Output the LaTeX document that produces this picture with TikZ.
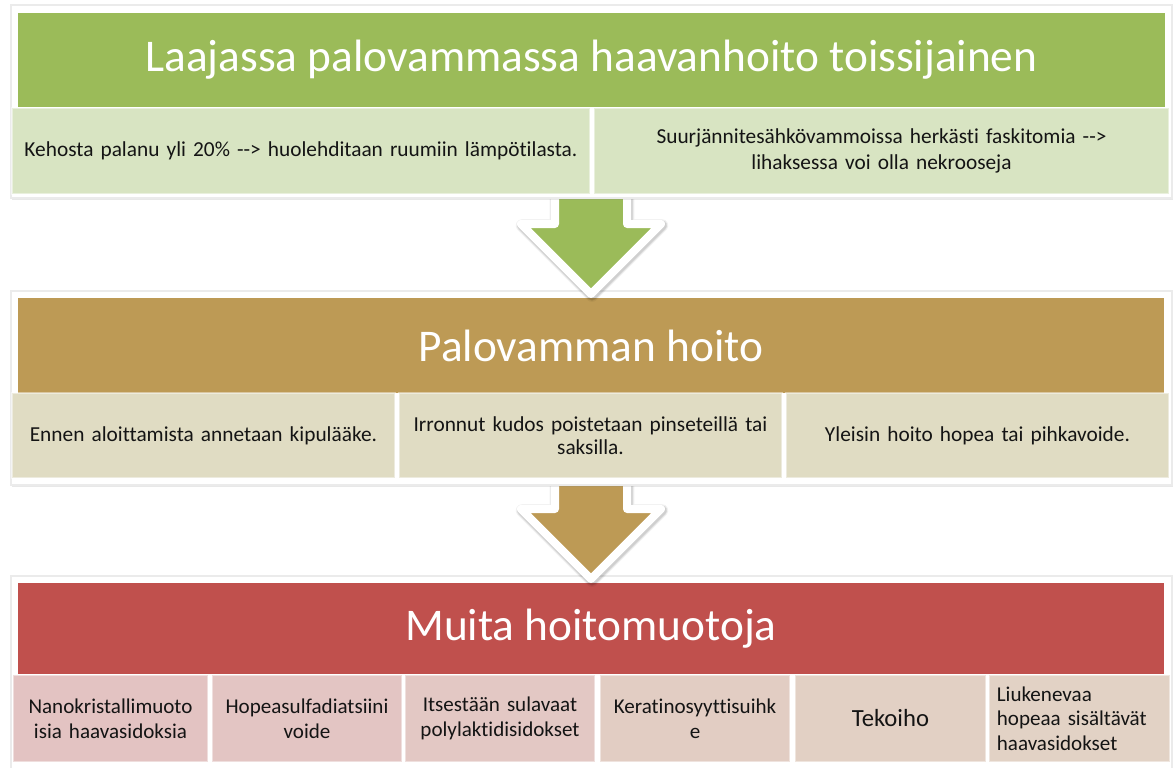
\documentclass[tikz,border=0pt]{standalone}
\usepackage{fontspec}
\setmainfont{Carlito}[Ligatures={NoCommon}]
\usetikzlibrary{shadows,calc}
\definecolor{gHead}{HTML}{9BBB59}
\definecolor{gCell}{HTML}{D8E4C2}
\definecolor{bHead}{HTML}{BD9A55}
\definecolor{bCell}{HTML}{E0DCC3}
\definecolor{rHead}{HTML}{C0504D}
\definecolor{rCa}{HTML}{E3C3C2}
\definecolor{rCb}{HTML}{E3C5C3}
\definecolor{rCc}{HTML}{E3C8C4}
\definecolor{rCd}{HTML}{E2CDC3}
\definecolor{rCe}{HTML}{E2D0C4}
\definecolor{rCf}{HTML}{E2D2C5}
\definecolor{txt}{HTML}{141414}
\tikzset{
  frame/.style={fill=white, draw=black!8, line width=0.8pt, inner sep=0pt, outer sep=0pt,
    minimum width=870.75pt, anchor=center,
    drop shadow={shadow xshift=0.8pt, shadow yshift=-1.4pt, opacity=0.18}},
  head/.style={text=white, inner sep=0pt, outer sep=0pt, anchor=center,
    font=\fontsize{34}{40}\selectfont},
  cell/.style={text=txt, inner sep=0pt, outer sep=0pt, align=center, anchor=center,
    draw=white, draw opacity=0.45, line width=1pt},
  topfont/.style={font=\fontsize{16}{20}\selectfont},
  midfont/.style={font=\fontsize{16}{17.5}\selectfont},
  botfont/.style={font=\fontsize{15.8}{18.5}\selectfont},
  arrowglow/.style={draw=black, line join=round},
  blockarrow/.style={draw=white, line width=6pt, line join=round},
}
\newcommand\downblock[2]{%
  \foreach \w/\o in {9.5pt/0.05, 8pt/0.07, 7pt/0.08}{%
    \draw[arrowglow, line width=\w, draw opacity=\o] ($(#1)+(-36,-109)+(1,1.5)$) -- ($(#1)+(36,-109)+(1,1.5)$) -- ($(#1)+(36,-70)+(1,1.5)$)
      -- ($(#1)+(70,-70)+(1,1.5)$) -- ($(#1)+(1,1.5)$) -- ($(#1)+(-70,-70)+(1,1.5)$) -- ($(#1)+(-36,-70)+(1,1.5)$) -- cycle;}
  \draw[blockarrow, fill=#2] ($(#1)+(-36,-109)$) -- ($(#1)+(36,-109)$) -- ($(#1)+(36,-70)$)
    -- ($(#1)+(70,-70)$) -- (#1) -- ($(#1)+(-70,-70)$) -- ($(#1)+(-36,-70)$) -- cycle;}
\begin{document}
\begin{tikzpicture}[x=0.75pt,y=-0.75pt]
\useasboundingbox (0,0) rectangle (1176,767);
% ---------- panel 3
\node[frame, minimum height=149.25pt] (f3) at (591.5,675.5) {};
\node[head, fill=rHead, minimum width=859.5pt, minimum height=68.25pt] (h3) at (591,628.5) {Muita hoitomuotoja};
\node[cell, botfont, fill=rCa, minimum width=146.25pt, minimum height=65.25pt, text width=140pt] (c31) at (110.5,718.5) {Nanokristallimuoto\\isia haavasidoksia};
\node[cell, botfont, fill=rCb, minimum width=142.5pt, minimum height=65.25pt, text width=136pt] (c32) at (307,718.5) {Hopeasulfadiatsiini\\voide};
\node[cell, botfont, fill=rCc, minimum width=142.5pt, minimum height=65.25pt, text width=136pt] (c33) at (500,718.5) {Itsestään sulavaat\\polylaktidisidokset};
\node[cell, botfont, fill=rCd, minimum width=142.5pt, minimum height=65.25pt, text width=136pt] (c34) at (695,718.5) {Keratinosyyttisuihk\\e};
\node[cell, botfont, fill=rCe, minimum width=143.25pt, minimum height=65.25pt, text width=136pt, font=\fontsize{18.5}{22}\selectfont] (c35) at (890.5,718.5) {Tekoiho};
\node[cell, botfont, fill=rCf, minimum width=135.75pt, minimum height=65.25pt, text width=124pt, align=left] (c36) at (1079.5,718.5) {Liukenevaa\\hopeaa sisältävät\\haavasidokset};
% ---------- arrow 2
\coordinate (t2) at ($(h3.north)+(0,-4)$);
\downblock{t2}{bHead}
% ---------- panel 2
\node[frame, minimum height=145.5pt] (f2) at (591.5,388) {};
\node[head, fill=bHead, minimum width=859.5pt, minimum height=71.25pt] (h2) at (591,345.5) {Palovamman hoito};
\node[cell, midfont, fill=bCell, minimum width=287.25pt, minimum height=63.75pt, text width=280pt] (c21) at (203.5,435.5) {Ennen aloittamista annetaan kipulääke.};
\node[cell, midfont, fill=bCell, minimum width=287.25pt, minimum height=63.75pt, text width=280pt] (c22) at (590.5,435.5) {Irronnut kudos poistetaan pinseteillä tai\\saksilla.};
\node[cell, midfont, fill=bCell, minimum width=287.25pt, minimum height=63.75pt, text width=280pt] (c23) at (977.5,435.5) {Yleisin hoito hopea tai pihkavoide.};
% ---------- arrow 1
\coordinate (t1) at ($(h2.north)+(0,-4)$);
\downblock{t1}{gHead}
% ---------- panel 1
\node[frame, minimum height=144.75pt] (f1) at (591.5,101.5) {};
\node[head, fill=gHead, minimum width=860.25pt, minimum height=70.5pt] (h1) at (591.5,60) {Laajassa palovammassa haavanhoito toissijainen};
\node[cell, topfont, fill=gCell, minimum width=433.5pt, minimum height=64.5pt, text width=425pt] (c11) at (301,151) {Kehosta palanu yli 20\% -{}-> huolehditaan ruumiin lämpötilasta.};
\node[cell, topfont, fill=gCell, minimum width=431.25pt, minimum height=64.5pt, text width=425pt] (c12) at (881.5,151) {Suurjännitesähkövammoissa herkästi faskitomia -{}->\\lihaksessa voi olla nekrooseja};
\end{tikzpicture}
\end{document}
